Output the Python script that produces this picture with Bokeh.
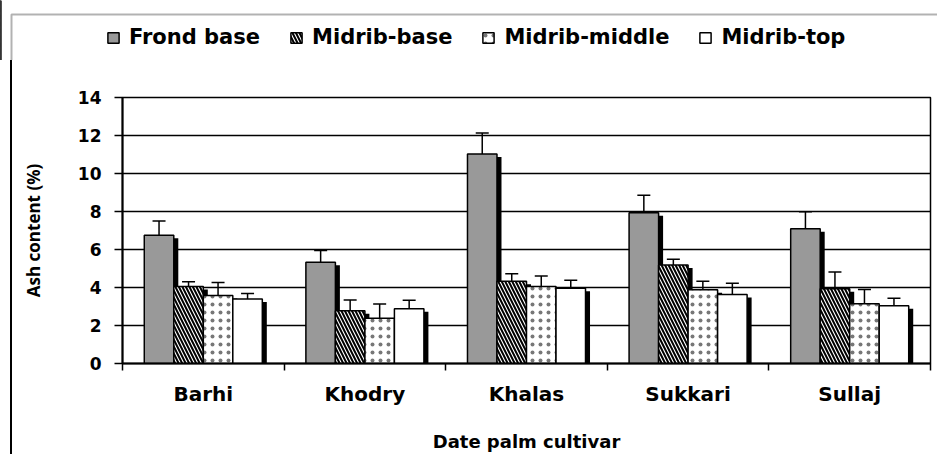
import numpy as np
from bokeh.plotting import figure
from bokeh.layouts import column
from bokeh.models import (ColumnDataSource, Range1d, FixedTicker, Whisker, TeeHead,
                          Legend, LegendItem, BoxAnnotation)
from bokeh.embed import file_html
from bokeh.resources import INLINE

# ---------------- data ----------------
categories = ["Barhi", "Khodry", "Khalas", "Sukkari", "Sullaj"]
series_names = ["Frond base", "Midrib-base", "Midrib-middle", "Midrib-top"]

frond_base = [6.75, 5.33, 11.03, 7.93, 7.09]
frond_base_err = [0.75, 0.62, 1.10, 0.92, 0.90]
midrib_base = [4.05, 2.77, 4.33, 5.19, 3.93]
midrib_base_err = [0.25, 0.57, 0.40, 0.30, 0.88]
midrib_middle = [3.58, 2.38, 4.05, 3.88, 3.14]
midrib_middle_err = [0.68, 0.75, 0.55, 0.45, 0.75]
midrib_top = [3.39, 2.88, 3.96, 3.63, 3.04]
midrib_top_err = [0.30, 0.45, 0.42, 0.60, 0.40]

y_ticks = [0, 2, 4, 6, 8, 10, 12, 14]
x_title = "Date palm cultivar"
y_title = "Ash content (%)"

values = [frond_base, midrib_base, midrib_middle, midrib_top]
errors = [frond_base_err, midrib_base_err, midrib_middle_err, midrib_top_err]

# ---------------- styles ----------------
styles = [
    dict(fill_color="#999999", hatch_pattern=None),
    dict(fill_color="white", hatch_pattern="left_diagonal_line", hatch_color="black",
         hatch_scale=7, hatch_weight=2.0),
    dict(fill_color="white", hatch_pattern="dot", hatch_color="#777777",
         hatch_scale=8, hatch_weight=1.5),
    dict(fill_color="white", hatch_pattern=None),
]


def bar_style(st):
    kw = dict(fill_color=st["fill_color"], line_color="black", line_width=1.5)
    if st["hatch_pattern"]:
        kw.update(hatch_pattern=st["hatch_pattern"], hatch_color=st["hatch_color"],
                  hatch_scale=st["hatch_scale"], hatch_weight=st["hatch_weight"])
    return kw


W, H = 937, 454
LEG_H = 60
FRAME_L, FRAME_R, FRAME_T, FRAME_B = 122, 7, 97, 91
H2 = H - LEG_H
frame_w = W - FRAME_L - FRAME_R
frame_h = H2 - (FRAME_T - LEG_H) - FRAME_B
BORDER_X, BORDER_Y = 11, 14   # outer chart border (px)

n_cat = len(categories)
bar_w = 0.1826
shadow_dx_px, shadow_dy_px = 4.5, 3.0
dx = shadow_dx_px * n_cat / frame_w
dy = shadow_dy_px * (y_ticks[-1] - y_ticks[0]) / frame_h

# ---------------- legend strip ----------------
pl = figure(width=W, height=LEG_H, output_backend="svg", toolbar_location=None,
            x_axis_type=None, y_axis_type=None, x_range=Range1d(0, 1), y_range=Range1d(0, 1),
            min_border=0, min_border_left=0, min_border_right=0,
            min_border_top=0, min_border_bottom=0,
            border_fill_alpha=0, background_fill_alpha=0,
            outline_line_color=None, frame_align=False)
pl.grid.visible = False
# outer border (top + left edges) of the chart area
pl.add_layout(BoxAnnotation(left=BORDER_X / W, right=2, top=1 - BORDER_Y / LEG_H, bottom=-1,
                            fill_alpha=0, line_color="black", line_width=2))
leg_renderers = []
for k in range(4):
    # single off-range bar per series: only its legend swatch is visible
    proxy = ColumnDataSource(dict(x=[-5.0], top=[values[k][0]]))
    leg_renderers.append(pl.vbar(x="x", top="top", bottom=0, width=0.1, source=proxy,
                                 **bar_style(styles[k])))
legend = Legend(items=[LegendItem(label=n, renderers=[r]) for n, r in zip(series_names, leg_renderers)],
                orientation="horizontal", location=(106, 11),
                padding=0, margin=0, spacing=29, label_standoff=9,
                glyph_width=14, glyph_height=13, label_height=13,
                border_line_color=None, background_fill_alpha=0,
                label_text_font="DejaVu Sans", label_text_font_style="bold",
                label_text_font_size="21px", label_text_color="black")
pl.add_layout(legend)

# ---------------- main chart ----------------
p = figure(width=W, height=H2, output_backend="svg", toolbar_location=None,
           x_range=Range1d(0, n_cat), y_range=Range1d(y_ticks[0], y_ticks[-1]),
           min_border_left=FRAME_L, min_border_right=FRAME_R,
           min_border_top=FRAME_T - LEG_H, min_border_bottom=FRAME_B,
           background_fill_color="white", border_fill_alpha=0, frame_align=False)
p.styles = {"box-shadow": f"inset {BORDER_X - 1}px 0 0 0 white, inset {BORDER_X + 1}px 0 0 0 black"}

centers = np.arange(n_cat) + 0.5

# shadows
for k in range(4):
    xs = centers + (k - 1.5) * bar_w
    src = ColumnDataSource(dict(x=xs + dx, top=np.array(values[k]) - dy))
    p.vbar(x="x", top="top", bottom=0, width=bar_w, source=src,
           fill_color="black", line_color=None)

for k in range(4):
    xs = centers + (k - 1.5) * bar_w
    vals = np.array(values[k])
    errs = np.array(errors[k])
    src = ColumnDataSource(dict(x=xs, top=vals, upper=vals + errs, lower=vals - errs))
    p.vbar(x="x", top="top", bottom=0, width=bar_w, source=src, **bar_style(styles[k]))
    wh = Whisker(base="x", upper="upper", lower="lower", source=src,
                 line_color="black", line_width=1.5,
                 upper_head=TeeHead(size=13, line_color="black", line_width=1.5),
                 lower_head=TeeHead(size=13, line_color="black", line_width=1.5))
    p.add_layout(wh)

# ---------------- axes ----------------
xa = p.xaxis[0]
xa.ticker = FixedTicker(ticks=list(centers), minor_ticks=list(range(n_cat + 1)))
xa.major_label_overrides = {float(c): lab for c, lab in zip(centers, categories)}
xa.major_tick_out = 0
xa.major_tick_in = 0
xa.minor_tick_out = 7
xa.minor_tick_in = 0
xa.minor_tick_line_color = "black"
xa.minor_tick_line_width = 1.5
xa.axis_line_color = "black"
xa.axis_line_width = 2
xa.major_label_text_font = "DejaVu Sans"
xa.major_label_text_font_style = "bold"
xa.major_label_text_font_size = "20px"
xa.major_label_text_color = "black"
xa.major_label_standoff = 11
xa.axis_label = x_title
xa.axis_label_text_font = "DejaVu Sans"
xa.axis_label_text_font_style = "bold"
xa.axis_label_text_font_size = "18px"
xa.axis_label_text_color = "black"
xa.axis_label_standoff = 22

ya = p.yaxis[0]
ya.ticker = FixedTicker(ticks=y_ticks, minor_ticks=[])
ya.major_tick_out = 8
ya.major_tick_in = 0
ya.major_tick_line_color = "black"
ya.major_tick_line_width = 1.5
ya.axis_line_color = "black"
ya.axis_line_width = 2
ya.major_label_text_font = "DejaVu Sans"
ya.major_label_text_font_style = "bold"
ya.major_label_text_font_size = "17px"
ya.major_label_text_color = "black"
ya.major_label_standoff = 13
ya.axis_label = y_title
ya.axis_label_text_font = "Open Sans"
ya.axis_label_text_font_style = "bold"
ya.axis_label_text_font_size = "17px"
ya.axis_label_text_color = "black"
ya.axis_label_standoff = 30

p.xgrid.visible = False
p.ygrid.ticker = FixedTicker(ticks=y_ticks)
p.ygrid.grid_line_color = "black"
p.ygrid.grid_line_width = 1.5

p.outline_line_color = "black"
p.outline_line_width = 1.5

layout = column(pl, p, spacing=0)

open("out.html", "w").write(file_html(layout, INLINE))
